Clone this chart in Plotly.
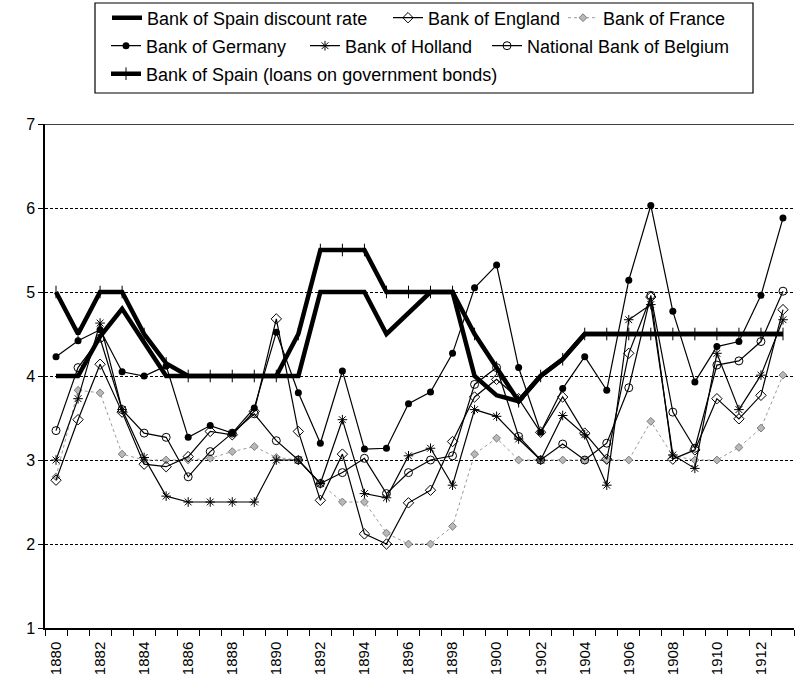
import plotly.graph_objects as go

years = list(range(1880, 1914))

spain_discount = [4, 4, 4.47, 4.8, 4.4, 4.0, 4, 4, 4, 4, 4, 4,
                  5, 5, 5, 4.5, 4.75, 5, 5,
                  4.0, 3.77, 3.7, 4.0, 4.2,
                  4.5, 4.5, 4.5, 4.5, 4.5, 4.5, 4.5, 4.5, 4.5, 4.5]
spain_loans = [5, 4.5, 5, 5, 4.5, 4.15, 4, 4, 4, 4, 4, 4.5,
               5.5, 5.5, 5.5, 5, 5, 5, 5,
               4.5, 4.1, 3.7, 4.0, 4.2,
               4.5, 4.5, 4.5, 4.5, 4.5, 4.5, 4.5, 4.5, 4.5, 4.5]
england = [2.76, 3.48, 4.14, 3.57, 2.95, 2.92, 3.04, 3.34, 3.30, 3.58,
           4.68, 3.34, 2.52, 3.07, 2.12, 2.0, 2.49, 2.64, 3.22, 3.75,
           3.96, 3.73, 3.33, 3.75, 3.32, 3.01, 4.27, 4.94, 3.01, 3.12,
           3.73, 3.49, 3.77, 4.79]
france = [2.8, 3.83, 3.8, 3.07, 3.0, 3.0, 3.0, 3.02, 3.1, 3.16,
          3.03, 3.0, 2.72, 2.5, 2.5, 2.13, 2.0, 2.0, 2.21, 3.07,
          3.26, 3.0, 3.0, 3.0, 3.0, 3.0, 3.0, 3.46, 3.05, 3.0,
          3.0, 3.15, 3.38, 4.01]
germany = [4.23, 4.42, 4.55, 4.05, 4.0, 4.12, 3.27, 3.41, 3.32, 3.62,
           4.52, 3.8, 3.2, 4.06, 3.13, 3.14, 3.67, 3.81, 4.27, 5.05,
           5.32, 4.1, 3.33, 3.85, 4.23, 3.83, 5.14, 6.03, 4.77, 3.93,
           4.35, 4.41, 4.96, 5.88]
holland = [3.0, 3.73, 4.63, 3.6, 3.03, 2.57, 2.5, 2.5, 2.5, 2.5,
           3.0, 3.0, 2.72, 3.48, 2.6, 2.55, 3.05, 3.14, 2.7, 3.6,
           3.52, 3.25, 3.0, 3.53, 3.3, 2.7, 4.67, 4.85, 3.06, 2.9,
           4.27, 3.6, 4.01, 4.67]
belgium = [3.35, 4.1, 4.45, 3.6, 3.32, 3.27, 2.8, 3.1, 3.32, 3.55,
           3.23, 3.0, 2.72, 2.85, 3.02, 2.6, 2.85, 3.0, 3.05, 3.9,
           4.1, 3.28, 3.0, 3.19, 3.0, 3.2, 3.86, 4.96, 3.57, 3.14,
           4.13, 4.18, 4.41, 5.01]

tick_years = [str(y) for y in range(1880, 1913, 2)]
y_ticks = [1, 2, 3, 4, 5, 6, 7]

FONT = "Arial, Liberation Sans, Helvetica, sans-serif"
W, H = 796, 680

fig = go.Figure()

thin = dict(color="black", width=1.2)

fig.add_trace(go.Scatter(x=years, y=france, name="Bank of France", mode="lines+markers",
                         line=dict(color="#9a9a9a", width=1, dash="dot"),
                         marker=dict(symbol="diamond", size=6, color="#b8b8b8",
                                     line=dict(color="#7a7a7a", width=1)),
                         legend="legend3"))
fig.add_trace(go.Scatter(x=years, y=holland, name="Bank of Holland", mode="lines+markers",
                         line=thin,
                         marker=dict(symbol="asterisk-open", size=8, color="black",
                                     line=dict(color="black", width=1)),
                         legend="legend5"))
fig.add_trace(go.Scatter(x=years, y=belgium, name="National Bank of Belgium", mode="lines+markers",
                         line=thin,
                         marker=dict(symbol="circle-open", size=8, color="black",
                                     line=dict(color="black", width=1)),
                         legend="legend6"))
fig.add_trace(go.Scatter(x=years, y=england, name="Bank of England", mode="lines+markers",
                         line=thin,
                         marker=dict(symbol="diamond-open", size=8, color="black",
                                     line=dict(color="black", width=1)),
                         legend="legend2"))
fig.add_trace(go.Scatter(x=years, y=germany, name="Bank of Germany", mode="lines+markers",
                         line=thin,
                         marker=dict(symbol="circle", size=7, color="black"),
                         legend="legend4"))
fig.add_trace(go.Scatter(x=years, y=spain_loans, name="Bank of Spain (loans on government bonds)",
                         mode="lines+markers",
                         line=dict(color="black", width=4.5),
                         marker=dict(symbol="line-ns-open", size=9, color="black",
                                     line=dict(color="black", width=1)),
                         legend="legend7"))
fig.add_trace(go.Scatter(x=years, y=spain_discount, name="Bank of Spain discount rate", mode="lines",
                         line=dict(color="black", width=4.5),
                         legend="legend"))

LEG_FONT = 18


def leg(text_x, row_y):
    return dict(orientation="h", xref="container", yref="container",
                x=(text_x - 41) / W, y=1 - row_y / H,
                xanchor="left", yanchor="middle", itemwidth=30,
                font=dict(family=FONT, size=LEG_FONT, color="black"),
                bgcolor="rgba(0,0,0,0)", borderwidth=0, itemclick=False)


fig.update_layout(
    width=W, height=H,
    margin=dict(l=45, r=2, t=124, b=52),
    paper_bgcolor="white", plot_bgcolor="white",
    font=dict(family=FONT, size=15, color="black"),
    legend=leg(148, 18),
    legend2=leg(429, 18),
    legend3=leg(604, 18),
    legend4=leg(147, 46),
    legend5=leg(346, 46),
    legend6=leg(528, 46),
    legend7=leg(147, 74),
    showlegend=True,
)

fig.update_xaxes(
    range=[1879.5, 1913.5], tickmode="array", tickvals=list(range(1880, 1913, 2)),
    ticktext=tick_years, tickangle=-90, ticks="outside", ticklen=6,
    tickcolor="rgba(0,0,0,0)",
    minor=dict(tickmode="array", tickvals=[y - 0.5 for y in range(1880, 1915)],
               ticks="outside", ticklen=6, tickcolor="black", tickwidth=1, showgrid=False),
    showline=True, linecolor="black", linewidth=1.5, showgrid=False, zeroline=False,
    tickfont=dict(family=FONT, size=15, color="black"), automargin=False,
)
fig.update_yaxes(
    range=[1, 7], tickmode="array", tickvals=y_ticks, ticktext=[str(v) for v in y_ticks],
    ticks="outside", ticklen=5, tickcolor="black",
    showline=True, linecolor="black", linewidth=1.5,
    showgrid=True, gridcolor="black", gridwidth=1, griddash="3px,2px", zeroline=False,
    tickfont=dict(family=FONT, size=16, color="black"), automargin=False,
)

fig.add_shape(type="line", xref="paper", yref="y", x0=0, x1=1, y0=7, y1=7,
              line=dict(color="black", width=1.5), layer="above")
fig.add_shape(type="rect", xref="paper", yref="paper",
              x0=(95 - 45) / 749, x1=(753 - 45) / 749,
              y0=(628 - 93) / 504, y1=(628 - 3) / 504,
              line=dict(color="black", width=1.2), fillcolor="rgba(0,0,0,0)")

fig.write_html("out.html", config={"displayModeBar": False},
               post_script="document.body.style.margin='0';document.body.style.padding='0';")
